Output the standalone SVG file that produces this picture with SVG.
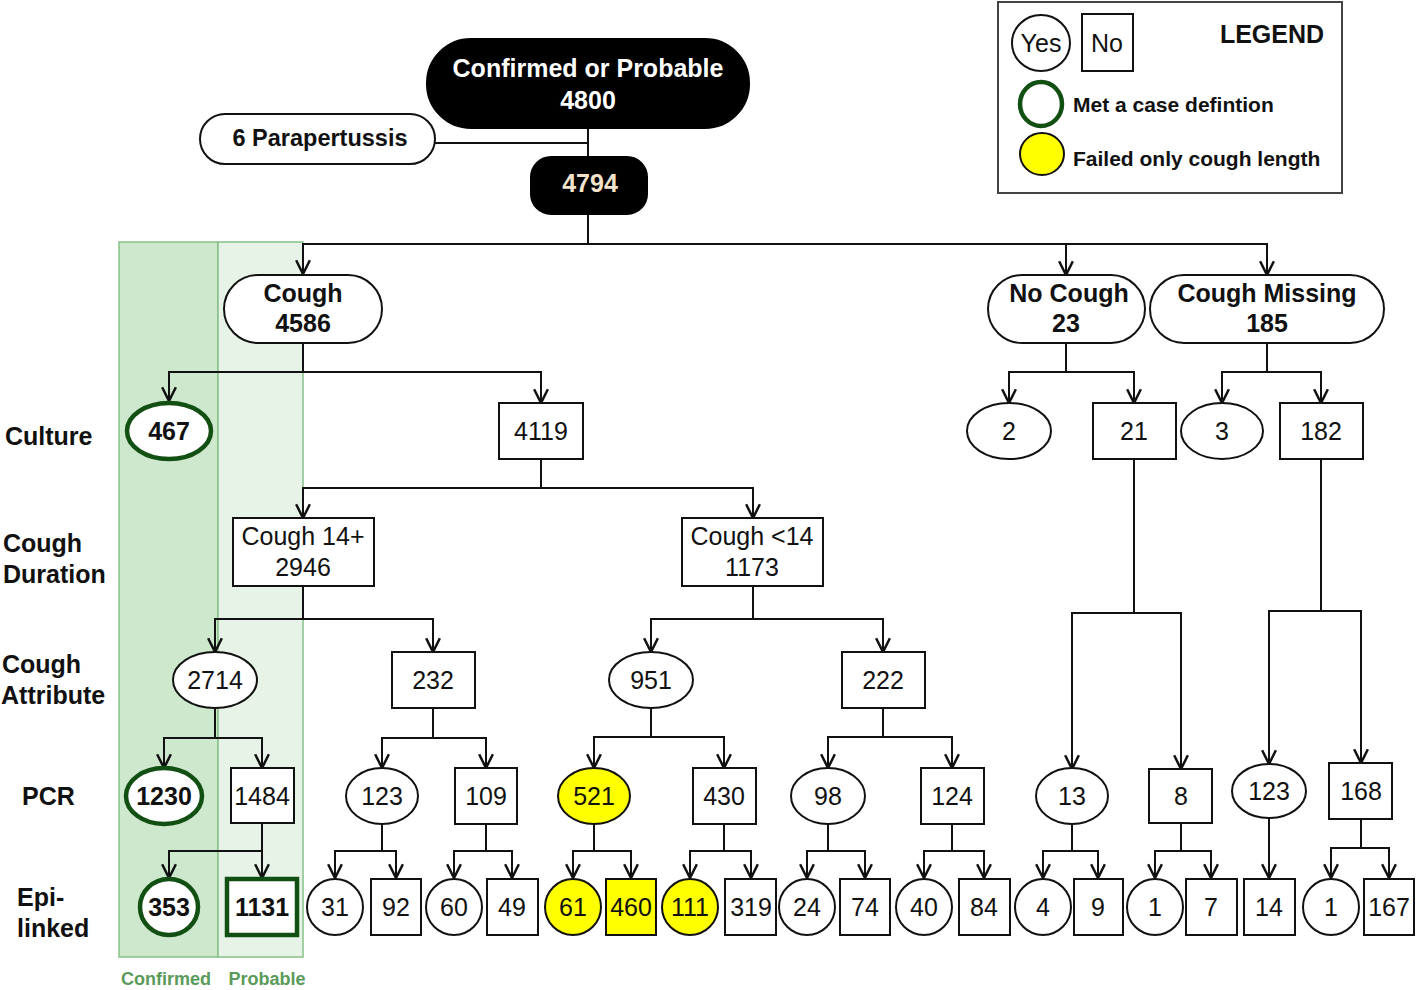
<svg xmlns="http://www.w3.org/2000/svg" width="1416" height="990" viewBox="0 0 1416 990">
<defs>
<marker id="arr" markerUnits="userSpaceOnUse" markerWidth="16" markerHeight="16" viewBox="0 0 14 14" refX="13" refY="7" orient="auto">
<path d="M1,1 L13,7 L1,13" fill="none" stroke="#111" stroke-width="2.2" stroke-linejoin="miter"/>
</marker>
</defs>
<style>
text{font-family:"Liberation Sans",Arial,sans-serif;font-size:25px;fill:#111;text-anchor:middle}
.b{font-weight:bold}
.w{fill:#fff}
.lbl{text-anchor:start;font-weight:bold}
.n{fill:#fff;stroke:#111;stroke-width:2}
.blk{fill:#000;stroke:#000;stroke-width:2}
.g{fill:#fff;stroke:#124f12;stroke-width:4.5}
.y{fill:#ffff00;stroke:#111;stroke-width:2}
.c path{fill:none;stroke:#111;stroke-width:2}
.c .a{marker-end:url(#arr)}
.grn{font-size:18px;font-weight:bold;fill:#5a9a5a}
</style>
<rect width="1416" height="990" fill="#fff"/>
<g id="panels">
<rect x="119" y="242" width="99" height="715" fill="#cde8cd" stroke="#88c088" stroke-width="1.5"/>
<rect x="218" y="242" width="85" height="715" fill="#e7f3e7" stroke="#88c088" stroke-width="1.5"/>
<text class="grn" x="166" y="985">Confirmed</text>
<text class="grn" x="267" y="985">Probable</text>
</g>
<g id="row-labels">
<text class="lbl" x="5" y="445">Culture</text>
<text class="lbl" x="3" y="552">Cough</text>
<text class="lbl" x="3" y="583">Duration</text>
<text class="lbl" x="2" y="673">Cough</text>
<text class="lbl" x="1" y="704">Attribute</text>
<text class="lbl" x="22" y="805">PCR</text>
<text class="lbl" x="17" y="906">Epi-</text>
<text class="lbl" x="17" y="937">linked</text>
</g>
<g id="connectors" class="c">
<path d="M588,128 V157"/>
<path d="M435,143 H588"/>
<path class="a" d="M588,214 V244 H303 V274"/>
<path class="a" d="M588,244 H1066 V275"/>
<path class="a" d="M1066,244 H1267 V275"/>
<path class="a" d="M303,343 V372 H169 V401"/>
<path class="a" d="M303,372 H541 V403"/>
<path class="a" d="M1066,343 V372 H1009 V403"/>
<path class="a" d="M1066,372 H1134 V403"/>
<path class="a" d="M1267,343 V372 H1222 V403"/>
<path class="a" d="M1267,372 H1321 V403"/>
<path class="a" d="M541,459 V488 H303 V518"/>
<path class="a" d="M541,488 H753 V518"/>
<path class="a" d="M1134,459 V613 H1072 V769"/>
<path class="a" d="M1134,613 H1181 V769"/>
<path class="a" d="M1321,459 V611 H1269 V764"/>
<path class="a" d="M1321,611 H1361 V763"/>
<path class="a" d="M303,586 V619 H215 V652"/>
<path class="a" d="M303,619 H433 V652"/>
<path class="a" d="M753,586 V619 H651 V652"/>
<path class="a" d="M753,619 H883 V652"/>
<path class="a" d="M215,708 V738 H164 V768"/>
<path class="a" d="M215,738 H262 V768"/>
<path class="a" d="M433,708 V738 H382 V768"/>
<path class="a" d="M433,738 H486 V768"/>
<path class="a" d="M651,708 V737 H594 V768"/>
<path class="a" d="M651,737 H724 V768"/>
<path class="a" d="M883,708 V737 H828 V768"/>
<path class="a" d="M883,737 H952 V768"/>
<path class="a" d="M262,823 V851 H169 V878"/>
<path class="a" d="M262,851 V878"/>
<path class="a" d="M382,824 V851 H335 V878"/>
<path class="a" d="M382,851 H396 V878"/>
<path class="a" d="M486,824 V851 H454 V878"/>
<path class="a" d="M486,851 H512 V878"/>
<path class="a" d="M594,824 V851 H573 V878"/>
<path class="a" d="M594,851 H631 V878"/>
<path class="a" d="M724,824 V851 H690 V878"/>
<path class="a" d="M724,851 H751 V878"/>
<path class="a" d="M828,824 V851 H807 V878"/>
<path class="a" d="M828,851 H865 V878"/>
<path class="a" d="M952,824 V851 H924 V878"/>
<path class="a" d="M952,851 H984 V878"/>
<path class="a" d="M1072,824 V851 H1043 V878"/>
<path class="a" d="M1072,851 H1098 V878"/>
<path class="a" d="M1181,823 V851 H1155 V878"/>
<path class="a" d="M1181,851 H1211 V878"/>
<path class="a" d="M1269,818 V878"/>
<path class="a" d="M1361,819 V848 H1331 V878"/>
<path class="a" d="M1361,848 H1389 V878"/>
</g>
<g id="n4800"><rect class="blk" x="427" y="39" width="322" height="89" rx="44"/><text class="b w" x="588" y="77">Confirmed or Probable</text><text class="b w" x="588" y="109">4800</text></g>
<g id="nPara"><rect class="n" x="200" y="114" width="235" height="50" rx="25"/><text class="b" x="320" y="146" style="font-size:23.5px">6 Parapertussis</text></g>
<g id="n4794"><rect class="blk" x="531" y="157" width="116" height="57" rx="20"/><text class="b" x="590" y="192" style="fill:#f3e3cc">4794</text></g>
<g id="nCough"><rect class="n" x="224" y="275" width="158" height="68" rx="34"/><text class="b" x="303" y="302">Cough</text><text class="b" x="303" y="332">4586</text></g>
<g id="nNoCough"><rect class="n" x="988" y="275" width="157" height="68" rx="34"/><text class="b" x="1069" y="302">No Cough</text><text class="b" x="1066" y="332">23</text></g>
<g id="nCoughMissing"><rect class="n" x="1150" y="275" width="234" height="68" rx="34"/><text class="b" x="1267" y="302">Cough Missing</text><text class="b" x="1267" y="332">185</text></g>
<g id="n467"><ellipse class="g" cx="169" cy="431" rx="42" ry="28"/><text class="b" x="169" y="440">467</text></g>
<g id="n4119"><rect class="n" x="499" y="403" width="84" height="56"/><text x="541" y="440">4119</text></g>
<g id="n2"><ellipse class="n" cx="1009" cy="431" rx="42" ry="28"/><text x="1009" y="440">2</text></g>
<g id="n21"><rect class="n" x="1093" y="403" width="83" height="56"/><text x="1134" y="440">21</text></g>
<g id="n3"><ellipse class="n" cx="1222" cy="431" rx="41" ry="28"/><text x="1222" y="440">3</text></g>
<g id="n182"><rect class="n" x="1280" y="403" width="83" height="56"/><text x="1321" y="440">182</text></g>
<g id="nCough14p"><rect class="n" x="233" y="518" width="141" height="68"/><text x="303" y="545">Cough 14+</text><text x="303" y="576">2946</text></g>
<g id="nCough14m"><rect class="n" x="682" y="518" width="141" height="68"/><text x="752" y="545">Cough &lt;14</text><text x="752" y="576">1173</text></g>
<g id="n2714"><ellipse class="n" cx="215" cy="680" rx="42" ry="28"/><text x="215" y="689">2714</text></g>
<g id="n232"><rect class="n" x="392" y="652" width="83" height="56"/><text x="433" y="689">232</text></g>
<g id="n951"><ellipse class="n" cx="651" cy="680" rx="42" ry="28"/><text x="651" y="689">951</text></g>
<g id="n222"><rect class="n" x="842" y="652" width="83" height="56"/><text x="883" y="689">222</text></g>
<g id="n1230"><ellipse class="g" cx="164" cy="796" rx="38" ry="28"/><text class="b" x="164" y="805">1230</text></g>
<g id="n1484"><rect class="n" x="231" y="768" width="63" height="55"/><text x="262" y="805">1484</text></g>
<g id="n123a"><ellipse class="n" cx="382" cy="796" rx="36" ry="28"/><text x="382" y="805">123</text></g>
<g id="n109"><rect class="n" x="455" y="768" width="62" height="56"/><text x="486" y="805">109</text></g>
<g id="n521"><ellipse class="y" cx="594" cy="796" rx="36" ry="28"/><text x="594" y="805">521</text></g>
<g id="n430"><rect class="n" x="693" y="768" width="63" height="56"/><text x="724" y="805">430</text></g>
<g id="n98"><ellipse class="n" cx="828" cy="796" rx="37" ry="28"/><text x="828" y="805">98</text></g>
<g id="n124"><rect class="n" x="921" y="768" width="63" height="56"/><text x="952" y="805">124</text></g>
<g id="n13"><ellipse class="n" cx="1072" cy="796" rx="36" ry="28"/><text x="1072" y="805">13</text></g>
<g id="n8"><rect class="n" x="1149" y="769" width="63" height="54"/><text x="1181" y="805">8</text></g>
<g id="n123b"><ellipse class="n" cx="1269" cy="791" rx="37" ry="27"/><text x="1269" y="800">123</text></g>
<g id="n168"><rect class="n" x="1329" y="763" width="63" height="56"/><text x="1361" y="800">168</text></g>
<g id="n353"><ellipse class="g" cx="169" cy="907" rx="29" ry="28"/><text class="b" x="169" y="916">353</text></g>
<g id="n1131"><rect class="g" x="227" y="879" width="70" height="56"/><text class="b" x="262" y="916">1131</text></g>
<g id="n31"><ellipse class="n" cx="335" cy="907" rx="28" ry="28"/><text x="335" y="916">31</text></g>
<g id="n92"><rect class="n" x="371" y="879" width="50" height="56"/><text x="396" y="916">92</text></g>
<g id="n60"><ellipse class="n" cx="454" cy="907" rx="28" ry="28"/><text x="454" y="916">60</text></g>
<g id="n49"><rect class="n" x="487" y="879" width="51" height="56"/><text x="512" y="916">49</text></g>
<g id="n61"><ellipse class="y" cx="573" cy="907" rx="28" ry="28"/><text x="573" y="916">61</text></g>
<g id="n460"><rect class="y" x="606" y="879" width="50" height="56"/><text x="631" y="916">460</text></g>
<g id="n111"><ellipse class="y" cx="690" cy="907" rx="28" ry="28"/><text x="690" y="916">111</text></g>
<g id="n319"><rect class="n" x="725" y="879" width="51" height="56"/><text x="751" y="916">319</text></g>
<g id="n24"><ellipse class="n" cx="807" cy="907" rx="28" ry="28"/><text x="807" y="916">24</text></g>
<g id="n74"><rect class="n" x="840" y="879" width="50" height="56"/><text x="865" y="916">74</text></g>
<g id="n40"><ellipse class="n" cx="924" cy="907" rx="28" ry="28"/><text x="924" y="916">40</text></g>
<g id="n84"><rect class="n" x="959" y="879" width="51" height="56"/><text x="984" y="916">84</text></g>
<g id="n4"><ellipse class="n" cx="1043" cy="907" rx="28" ry="28"/><text x="1043" y="916">4</text></g>
<g id="n9"><rect class="n" x="1074" y="879" width="49" height="56"/><text x="1098" y="916">9</text></g>
<g id="n1a"><ellipse class="n" cx="1155" cy="907" rx="28" ry="28"/><text x="1155" y="916">1</text></g>
<g id="n7"><rect class="n" x="1186" y="879" width="51" height="56"/><text x="1211" y="916">7</text></g>
<g id="n14"><rect class="n" x="1244" y="879" width="51" height="56"/><text x="1269" y="916">14</text></g>
<g id="n1b"><ellipse class="n" cx="1331" cy="907" rx="28" ry="28"/><text x="1331" y="916">1</text></g>
<g id="n167"><rect class="n" x="1364" y="879" width="50" height="56"/><text x="1389" y="916">167</text></g>
<g id="legend">
<rect x="998" y="2" width="344" height="191" fill="#fff" stroke="#444" stroke-width="2"/>
<ellipse class="n" cx="1041" cy="43" rx="29" ry="28"/><text x="1041" y="52">Yes</text>
<rect class="n" x="1082" y="14" width="51" height="57"/><text x="1107" y="52">No</text>
<text class="b" x="1272" y="43">LEGEND</text>
<ellipse class="g" cx="1041" cy="104" rx="21" ry="22"/>
<text class="b" x="1073" y="112" style="text-anchor:start;font-size:21px">Met a case defintion</text>
<ellipse class="y" cx="1042" cy="154" rx="22" ry="21"/>
<text class="b" x="1073" y="166" style="text-anchor:start;font-size:21px">Failed only cough length</text>
</g>
</svg>
